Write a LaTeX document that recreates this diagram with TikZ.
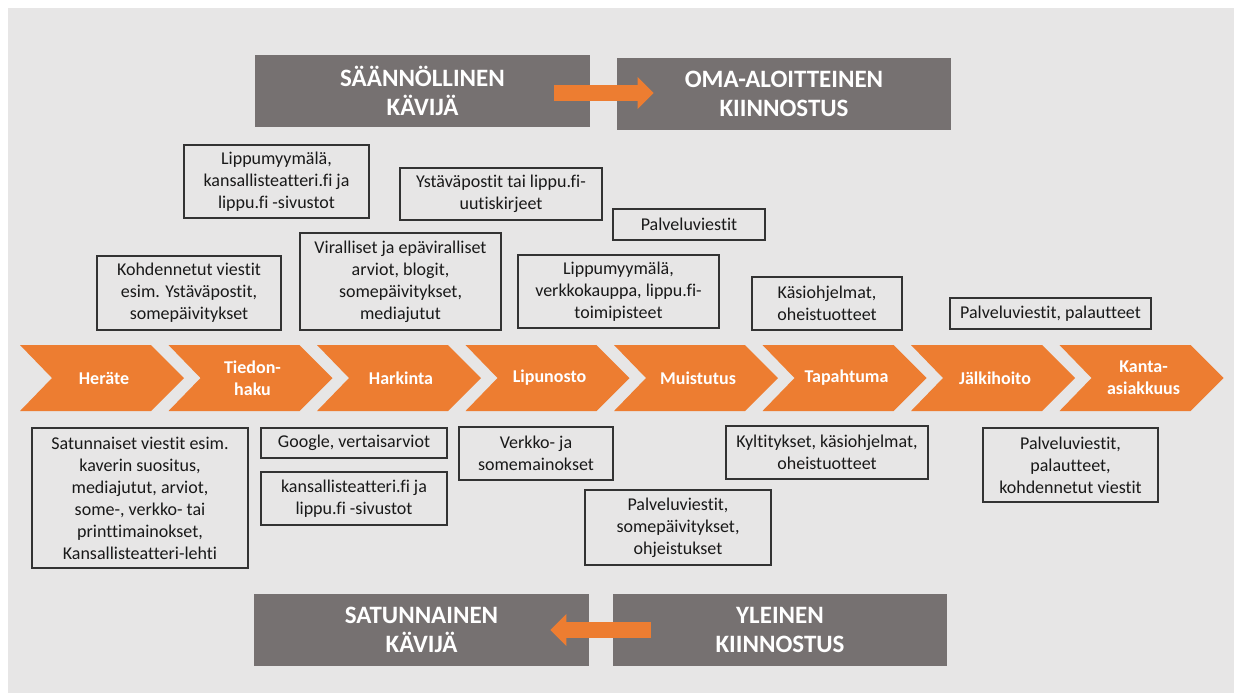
\documentclass[tikz,border=0pt]{standalone}
\usepackage{fontspec}
\setmainfont{Carlito}[Ligatures=NoCommon]
\usetikzlibrary{arrows.meta}
\usetikzlibrary{calc}

\definecolor{bggray}{HTML}{E7E6E6}
\definecolor{boxgray}{HTML}{767171}
\definecolor{phaseorange}{HTML}{ED7D31}

\begin{document}
\begin{tikzpicture}[x=0.5pt,y=-0.5pt,
    infobox/.style={draw=black!80,line width=0.6pt,align=center,inner sep=0pt,text=black!90,font=\fontsize{9}{11}\selectfont},
    groupbox/.style={fill=boxgray,text=white,align=center,inner sep=0pt,font=\bfseries\fontsize{12.5}{14.5}\selectfont},
    phase/.style={text=white,align=center,inner sep=0pt,font=\bfseries\fontsize{9}{11}\selectfont},
    flowarrow/.style={draw=phaseorange,line width=8pt,-{Triangle[length=8pt,width=15.5pt]}}]

  \useasboundingbox (0,0) rectangle (1234,693);
  \fill[bggray] (8,8) rectangle (1234,693);

	%visitor boxes
    \foreach \name/\xa/\ya/\xb/\yb/\txt in {saannollinen/255/55/590/127/{SÄÄNNÖLLINEN\\KÄVIJÄ},
        omaaloitteinen/617/58/951/130/{OMA-ALOITTEINEN\\KIINNOSTUS},
        satunnainen/254/594/589/666/{SATUNNAINEN\\KÄVIJÄ},
        yleinen/613/594/947/666/{YLEINEN\\KIINNOSTUS}}{
        \pgfmathsetmacro\w{(\xb-\xa)/2}
        \pgfmathsetmacro\h{(\yb-\ya)/2}
        \node[groupbox,minimum width=\w pt,minimum height=\h pt] (\name) at ({(\xa+\xb)/2},{(\ya+\yb)/2}) {\txt};
    }

    \draw[flowarrow] ([xshift=-18pt,yshift=-1pt]saannollinen.east) -- ([xshift=18.5pt,yshift=-1pt]saannollinen.east -| omaaloitteinen.west);
    \draw[flowarrow] ([xshift=19pt]yleinen.west) -- ([xshift=-19.5pt]yleinen.west -| satunnainen.east);

	%phases
 \def\d{148.5};
    \foreach \i/\name/\txt in {0/herate/Heräte,1/tiedonhaku/{Tiedon-\\haku},2/harkinta/Harkinta,3/lipunosto/Lipunosto,
        4/muistutus/Muistutus,5/tapahtuma/Tapahtuma,6/jalkihoito/Jälkihoito,7/kanta/{Kanta-\\asiakkuus}}{
        \pgfmathsetmacro\xl{20+\i*\d}
        \fill[phaseorange] (\xl,345) -- ++(131,0) -- ++(33,33) -- ++(-33,33) -- ++(-131,0) -- ++(32,-33) -- cycle;
        \node[phase] (\name) at (\xl+84,378) {\txt};
    }

	%channels above
    \foreach \name/\xa/\ya/\xb/\yb/\txt in {ylaA/184/145/369/218/{Lippumyymälä,\\kansallisteatteri.fi ja\\lippu.fi -sivustot},
        ylaB/400/168/602/220/{Ystäväpostit tai lippu.fi-\\uutiskirjeet},
        ylaC/613/209/765/240/{Palveluviestit},
        ylaD/97/256/281/330/{Kohdennetut viestit\\esim. Ystäväpostit,\\somepäivitykset},
        ylaE/300/233/501/330/{Viralliset ja epäviralliset\\arviot, blogit,\\somepäivitykset,\\mediajutut},
        ylaF/518/255/719/328/{Lippumyymälä,\\verkkokauppa, lippu.fi-\\toimipisteet},
        ylaG/752/277/902/330/{Käsiohjelmat,\\oheistuotteet},
        ylaH/950/298/1151/329/{Palveluviestit, palautteet}}{
        \pgfmathsetmacro\w{(\xb-\xa)/2}
        \pgfmathsetmacro\h{(\yb-\ya)/2}
        \node[infobox,minimum width=\w pt,minimum height=\h pt] (\name) at ({(\xa+\xb)/2},{(\ya+\yb)/2}) {\txt};
    }

	%channels below
    \foreach \name/\xa/\ya/\xb/\yb/\txt in {alaA/32/428/248/568/{Satunnaiset viestit esim.\\kaverin suositus,\\mediajutut, arviot,\\some-, verkko- tai\\printtimainokset,\\Kansallisteatteri-lehti},
        alaB/261/428/447/458/{Google, vertaisarviot},
        alaC/261/472/447/525/{kansallisteatteri.fi ja\\lippu.fi -sivustot},
        alaD/459/427/613/480/{Verkko- ja\\somemainokset},
        alaE/585/490/771/565/{Palveluviestit,\\somepäivitykset,\\ohjeistukset},
        alaF/726/426/928/479/{Kyltitykset, käsiohjelmat,\\oheistuotteet},
        alaG/983/428/1158/502/{Palveluviestit,\\palautteet,\\kohdennetut viestit}}{
        \pgfmathsetmacro\w{(\xb-\xa)/2}
        \pgfmathsetmacro\h{(\yb-\ya)/2}
        \node[infobox,minimum width=\w pt,minimum height=\h pt] (\name) at ({(\xa+\xb)/2},{(\ya+\yb)/2}) {\txt};
    }

\end{tikzpicture}
\end{document}
